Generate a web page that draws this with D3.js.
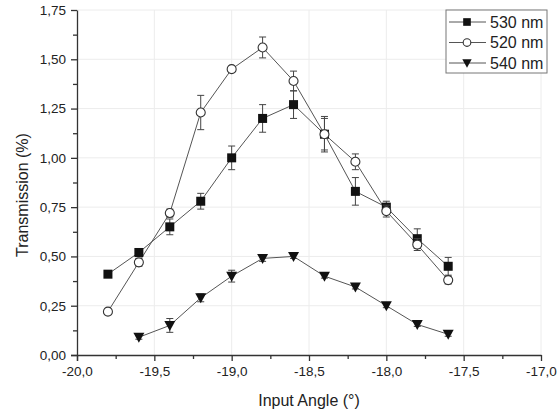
<!DOCTYPE html>
<html><head><meta charset="utf-8">
<script src="https://cdn.jsdelivr.net/npm/d3@7"></script>
<style>body{margin:0;background:#fff}svg{display:block}text{font-family:"Liberation Sans",Arial,sans-serif;fill:#222}</style>
</head><body>
<svg id="c" width="557" height="416"></svg>
<script>
const angles = [-19.8,-19.6,-19.4,-19.2,-19.0,-18.8,-18.6,-18.4,-18.2,-18.0,-17.8,-17.6];
const t530 = [0.41,0.52,0.65,0.78,1.00,1.20,1.27,1.12,0.83,0.75,0.59,0.45];
const e530 = [0.01,0.01,0.04,0.04,0.06,0.07,0.07,0.08,0.07,0.03,0.05,0.045];
const t520 = [0.22,0.47,0.72,1.23,1.45,1.56,1.39,1.12,0.98,0.73,0.56,0.38];
const e520 = [0.01,0.02,0.02,0.087,0.01,0.053,0.05,0.09,0.04,0.03,0.03,0.02];
const angles540 = [-19.6,-19.4,-19.2,-19.0,-18.8,-18.6,-18.4,-18.2,-18.0,-17.8,-17.6];
const t540 = [0.09,0.15,0.29,0.40,0.49,0.50,0.40,0.345,0.25,0.155,0.105];
const e540 = [0.01,0.035,0.02,0.03,0.015,0.01,0.01,0.01,0.01,0.01,0.01];
const xTicks = [-20.0,-19.5,-19.0,-18.5,-18.0,-17.5,-17.0];
const yTicks = [0,0.25,0.5,0.75,1.0,1.25,1.5,1.75];
const legendLabels = ["530 nm","520 nm","540 nm"];

const svg = d3.select("#c");
const x = d3.scaleLinear().domain([-20,-17]).range([77,541]);
const y = d3.scaleLinear().domain([0,1.75]).range([355,10]);
const fmt = d => d3.format(".1f")(d).replace(".",",").replace("−","-");
const fmtY = d => d3.format(".2f")(d).replace(".",",");

// grid
const g = svg.append("g");
g.selectAll("line.vx").data(xTicks.slice(1)).join("line")
 .attr("x1",d=>x(d)).attr("x2",d=>x(d)).attr("y1",10).attr("y2",355)
 .attr("stroke","#ececec").attr("stroke-width",1);
g.selectAll("line.hy").data(yTicks.slice(1)).join("line")
 .attr("x1",77).attr("x2",541).attr("y1",d=>y(d)).attr("y2",d=>y(d))
 .attr("stroke","#ececec").attr("stroke-width",1);

// axes
const xAxis = d3.axisBottom(x).tickValues(xTicks).tickFormat(fmt).tickSize(6).tickPadding(5);
const xMinor = d3.axisBottom(x).tickValues(d3.range(-19.75,-17,0.5)).tickFormat("").tickSize(4);
const yAxis = d3.axisLeft(y).tickValues(yTicks).tickFormat(fmtY).tickSize(6).tickPadding(5);
const yMinor = d3.axisLeft(y).tickValues(d3.range(0.125,1.75,0.25)).tickFormat("").tickSize(4);
function style(sel){sel.selectAll("path,line").attr("stroke","#333").attr("stroke-width",1.3);sel.selectAll("text").attr("font-size",13.5).attr("fill","#333");}
svg.append("g").attr("transform","translate(0,355)").call(xAxis).call(style);
svg.append("g").attr("transform","translate(0,355)").call(xMinor).call(style).select(".domain").remove();
svg.append("g").attr("transform","translate(77,0)").call(yAxis).call(style);
svg.append("g").attr("transform","translate(77,0)").call(yMinor).call(style).select(".domain").remove();
svg.selectAll(".domain").attr("d",function(){return d3.select(this).attr("d").replace(/V6|H-6|V-6|H6/g,"");});

svg.append("text").attr("x",309).attr("y",406).attr("text-anchor","middle").attr("font-size",16).text("Input Angle (°)");
svg.append("text").attr("transform","translate(28,195) rotate(-90)").attr("text-anchor","middle").attr("font-size",16).text("Transmission (%)");

const series = [
 {xs:angles, ys:t530, es:e530, m:"square"},
 {xs:angles, ys:t520, es:e520, m:"circle"},
 {xs:angles540, ys:t540, es:e540, m:"tri"}
];
const line = d3.line();
function marker(sel, type, k){
 k = k||1;
 if(type==="square") sel.append("rect").attr("x",-4.5*k).attr("y",-4.5*k).attr("width",9*k).attr("height",9*k).attr("fill","#111");
 else if(type==="circle") sel.append("circle").attr("r",4.5*k).attr("fill","#fff").attr("stroke","#333").attr("stroke-width",1.1);
 else sel.append("path").attr("d",`M${-5.5*k},${-4.5*k}L${5.5*k},${-4.5*k}L0,${5.5*k}Z`).attr("fill","#111");
}
series.forEach(s=>{
 const pts = s.xs.map((a,i)=>[x(a),y(s.ys[i])]);
 svg.append("path").attr("d",line(pts)).attr("fill","none").attr("stroke","#555").attr("stroke-width",1);
});
series.forEach(s=>{
 s.xs.forEach((a,i)=>{
  const cx=x(a), y0=y(s.ys[i]-s.es[i]), y1=y(s.ys[i]+s.es[i]);
  const eg = svg.append("g").attr("stroke","#444").attr("stroke-width",1);
  eg.append("line").attr("x1",cx).attr("x2",cx).attr("y1",y0).attr("y2",y1);
  eg.append("line").attr("x1",cx-3.5).attr("x2",cx+3.5).attr("y1",y0).attr("y2",y0);
  eg.append("line").attr("x1",cx-3.5).attr("x2",cx+3.5).attr("y1",y1).attr("y2",y1);
  const mg = svg.append("g").attr("transform",`translate(${cx},${y(s.ys[i])})`);
  marker(mg,s.m);
 });
});

// legend
const lg = svg.append("g");
lg.append("rect").attr("x",446).attr("y",10).attr("width",101).attr("height",63).attr("fill","#fff").attr("stroke","#777").attr("stroke-width",1);
legendLabels.forEach((lab,i)=>{
 const yy = 22+i*20.5;
 lg.append("line").attr("x1",449).attr("x2",486).attr("y1",yy).attr("y2",yy).attr("stroke","#555");
 const mg = lg.append("g").attr("transform",`translate(467,${yy})`);
 marker(mg, series[i].m, 0.85);
 lg.append("text").attr("x",490).attr("y",yy+5.5).attr("font-size",16).text(lab);
});
</script>
</body></html>
